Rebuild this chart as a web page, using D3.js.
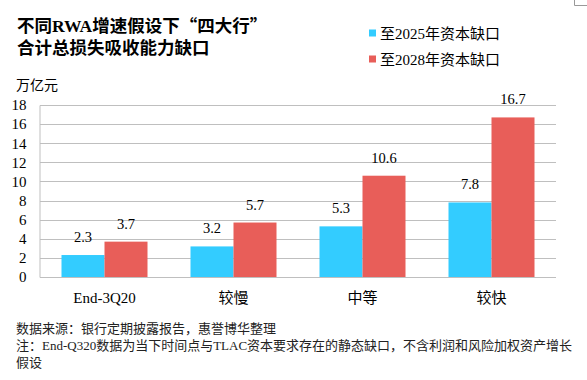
<!DOCTYPE html>
<html><head><meta charset="utf-8">
<script src="https://cdn.jsdelivr.net/npm/d3@7"></script>
<style>body{margin:0;background:#fff}svg{display:block}</style>
</head><body>
<svg id="c" width="587" height="380"></svg>
<script>
const categories = ["End-3Q20", "较慢", "中等", "较快"];
const seriesNames = ["至2025年资本缺口", "至2028年资本缺口"];
const values2025 = [2.3, 3.2, 5.3, 7.8];
const values2028 = [3.7, 5.7, 10.6, 16.7];
const yTicks = [0, 2, 4, 6, 8, 10, 12, 14, 16, 18];
const colors = ["#33CCFF", "#E85E59"];

const FONT = '"Liberation Serif","Times New Roman","Noto Sans CJK SC",serif';
const svg = d3.select("#c");
const x = d3.scaleBand().domain(categories).range([40, 556]).paddingInner(1/3).paddingOuter(1/6);
const x1 = d3.scaleBand().domain([0, 1]).range([0, x.bandwidth()]);
const y = d3.scaleLinear().domain([0, 18]).range([277, 105]);

// corner mark
svg.append("path").attr("d","M574.5,0V5.5H587").attr("fill","none").attr("stroke","#999");

// title
const t = svg.append("g").attr("font-family", FONT).attr("font-weight","bold").attr("font-size","17.5px").attr("fill","#000");
const t1 = t.append("text").attr("x",17).attr("y",32);
t1.append("tspan").text("不同RWA增速假设下");
t1.append("tspan").attr("font-family",'"Noto Sans CJK SC"').text("“四大行”");
t.append("text").attr("x",17).attr("y",54).text("合计总损失吸收能力缺口");

// unit
svg.append("text").attr("x",16).attr("y",90).attr("font-family",'"Noto Sans CJK SC"').attr("font-size","14px").text("万亿元");

// legend
const lg = svg.append("g").attr("font-family", FONT).attr("font-size","15px");
seriesNames.forEach((n,i)=>{
  const cy = 33 + i*26;
  lg.append("rect").attr("x",369).attr("y",cy-3.5).attr("width",7).attr("height",7).attr("fill",colors[i]);
  lg.append("text").attr("x",380).attr("y",cy+5.5).text(n);
});

// grid
svg.append("g").selectAll("line").data(yTicks.filter(d=>d>0)).join("line")
  .attr("x1",40).attr("x2",556).attr("y1",d=>Math.round(y(d))+0.5).attr("y2",d=>Math.round(y(d))+0.5)
  .attr("stroke","#BFBFBF");

// y axis
const ya = svg.append("g").attr("transform","translate(39.5,0)").call(d3.axisLeft(y).tickValues(yTicks).tickSize(0).tickPadding(13).tickFormat(d3.format("d")));
ya.select(".domain").attr("stroke","#BFBFBF");
ya.selectAll("text").attr("font-family",FONT).attr("font-size","15px").attr("fill","#000");

// bars
const series = [values2025, values2028];
const g = svg.append("g");
categories.forEach((c,ci)=>{
  series.forEach((vals,si)=>{
    g.append("rect").attr("x",x(c)+x1(si)).attr("y",y(vals[ci])).attr("width",x1.bandwidth()).attr("height",y(0)-y(vals[ci])).attr("fill",colors[si]);
    g.append("text").attr("x",x(c)+x1(si)+x1.bandwidth()/2).attr("y",y(vals[ci])-13)
      .attr("text-anchor","middle").attr("font-family",FONT).attr("font-size","14.5px").text(d3.format(".1f")(vals[ci]));
  });
});

// x axis
const xa = svg.append("g").attr("transform","translate(0,277.5)").call(d3.axisBottom(x).tickSize(0).tickPadding(15));
xa.select(".domain").attr("stroke","#BFBFBF").attr("d","M40,0H556");
xa.selectAll("text").attr("font-family",FONT).attr("font-size","15px").attr("fill","#000");

// footer
const f = svg.append("g").attr("font-family",FONT).attr("font-size","13px").attr("fill","#222");
f.append("text").attr("x",16).attr("y",333).text("数据来源：银行定期披露报告，惠誉博华整理");
f.append("text").attr("x",16).attr("y",350).text("注：End-Q320数据为当下时间点与TLAC资本要求存在的静态缺口，不含利润和风险加权资产增长");
f.append("text").attr("x",16).attr("y",367).text("假设");
</script>
</body></html>
